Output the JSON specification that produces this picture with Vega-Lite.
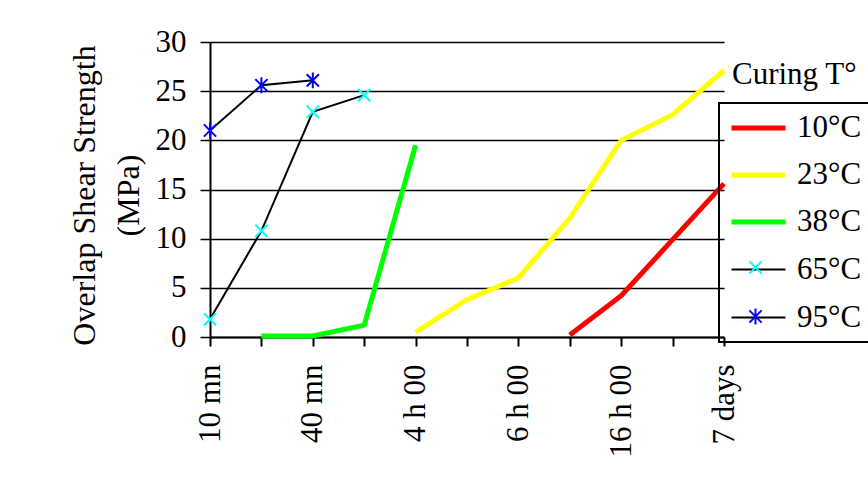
{
  "$schema": "https://vega.github.io/schema/vega-lite/v6.json",
  "width": 514,
  "height": 295,
  "autosize": {"type": "none"},
  "padding": {"left": 210, "top": 42, "right": 144, "bottom": 151},
  "background": "white",
  "config": {
    "view": {"stroke": null},
    "font": "Liberation Serif",
    "axis": {
      "labelFont": "Liberation Serif",
      "titleFont": "Liberation Serif",
      "labelColor": "black",
      "titleColor": "black",
      "domainColor": "black",
      "tickColor": "black",
      "gridColor": "black",
      "labelFontSize": 31,
      "titleFontSize": 32,
      "titleFontWeight": "normal"
    },
    "legend": {
      "labelFont": "Liberation Serif",
      "titleFont": "Liberation Serif",
      "labelColor": "black",
      "titleColor": "black",
      "labelFontSize": 31,
      "titleFontSize": 31,
      "titleFontWeight": "normal",
      "strokeWidth": 2
    }
  },
  "data": {
    "values": [
      {"pos": 7, "series": "10°C", "strength": 0.2},
      {"pos": 8, "series": "10°C", "strength": 4.2},
      {"pos": 9, "series": "10°C", "strength": 9.9},
      {"pos": 10, "series": "10°C", "strength": 15.6},
      {"pos": 4, "series": "23°C", "strength": 0.5},
      {"pos": 5, "series": "23°C", "strength": 3.8},
      {"pos": 6, "series": "23°C", "strength": 6.0},
      {"pos": 7, "series": "23°C", "strength": 12.1},
      {"pos": 8, "series": "23°C", "strength": 20.0},
      {"pos": 9, "series": "23°C", "strength": 22.6},
      {"pos": 10, "series": "23°C", "strength": 27.1},
      {"pos": 1, "series": "38°C", "strength": 0.1},
      {"pos": 2, "series": "38°C", "strength": 0.1},
      {"pos": 3, "series": "38°C", "strength": 1.2},
      {"pos": 4, "series": "38°C", "strength": 19.5},
      {"pos": 0, "series": "65°C", "strength": 1.8},
      {"pos": 1, "series": "65°C", "strength": 10.8},
      {"pos": 2, "series": "65°C", "strength": 22.9},
      {"pos": 3, "series": "65°C", "strength": 24.6},
      {"pos": 0, "series": "95°C", "strength": 21.0},
      {"pos": 1, "series": "95°C", "strength": 25.6},
      {"pos": 2, "series": "95°C", "strength": 26.1}
    ]
  },
  "layer": [
    {
      "mark": {"type": "line", "strokeJoin": "miter"},
      "encoding": {
        "x": {
          "field": "pos",
          "type": "quantitative",
          "scale": {"domain": [0, 10], "nice": false, "zero": false},
          "axis": {
            "title": null,
            "values": [0, 1, 2, 3, 4, 5, 6, 7, 8, 9, 10],
            "labelExpr": "['10 mn','','40 mn','','4 h 00','','6 h 00','','16 h 00','','7 days'][datum.value]",
            "labelAngle": 270,
            "labelAlign": "right",
            "labelBaseline": "middle",
            "labelPadding": 18,
            "labelFlush": false,
            "labelOverlap": false,
            "grid": false,
            "domainWidth": 2,
            "tickWidth": 2,
            "tickSize": 9
          }
        },
        "y": {
          "field": "strength",
          "type": "quantitative",
          "scale": {"domain": [0, 30], "nice": false},
          "axis": {
            "title": ["Overlap Shear Strength", "(MPa)"],
            "titleLineHeight": 44,
            "titlePadding": 10,
            "titleY": 153,
            "values": [0, 5, 10, 15, 20, 25, 30],
            "labelPadding": 14,
            "labelFlush": false,
            "grid": true,
            "gridWidth": 1.5,
            "domainWidth": 2,
            "tickWidth": 1.5,
            "tickSize": 10
          }
        },
        "stroke": {
          "field": "series",
          "type": "nominal",
          "scale": {
            "domain": ["10°C", "23°C", "38°C", "65°C", "95°C"],
            "range": ["#FF0000", "#FFFF00", "#00FF00", "#000000", "#000000"]
          },
          "legend": {
            "orient": "none",
            "legendX": 509,
            "legendY": 61,
            "title": null,
            "symbolType": "M-2,0L2,0",
            "symbolSize": 729,
            "symbolOffset": 14.5,
            "labelOffset": 22.5,
            "padding": 9,
            "strokeColor": "black",
            "rowPadding": 16
          }
        },
        "strokeWidth": {
          "field": "series",
          "type": "nominal",
          "scale": {
            "type": "ordinal",
            "domain": ["10°C", "23°C", "38°C", "65°C", "95°C"],
            "range": [5, 5, 5, 2, 2]
          }
        }
      }
    },
    {
      "transform": [{"filter": {"field": "series", "oneOf": ["65°C", "95°C"]}}],
      "mark": {"type": "point", "filled": false, "strokeWidth": 2, "size": 150, "opacity": 1},
      "encoding": {
        "x": {"field": "pos", "type": "quantitative"},
        "y": {"field": "strength", "type": "quantitative"},
        "color": {
          "field": "series",
          "type": "nominal",
          "scale": {"domain": ["65°C", "95°C"], "range": ["#00FFFF", "#0000FF"]},
          "legend": {
            "orient": "none",
            "legendX": 522,
            "legendY": 18,
            "title": "Curing T°",
            "titlePadding": 161,
            "labelOpacity": 0,
            "symbolSize": 150,
            "symbolStrokeWidth": 2,
            "symbolOffset": 8,
            "rowPadding": 17,
            "padding": 0
          }
        },
        "shape": {
          "field": "series",
          "type": "nominal",
          "scale": {
            "domain": ["65°C", "95°C"],
            "range": ["M-1,-1L1,1M-1,1L1,-1", "M-1,-1L1,1M-1,1L1,-1M0,-1.3L0,1.3"]
          }
        }
      }
    }
  ]
}
